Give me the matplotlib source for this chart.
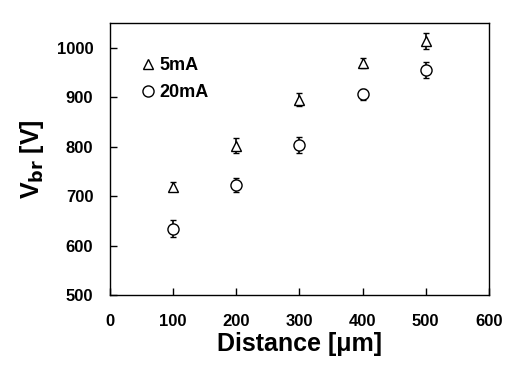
"""
Breakdown voltage against electrode distance for two test currents.
"""

import matplotlib
matplotlib.use("Agg")
import matplotlib.pyplot as plt

plt.rcParams["font.family"] = ["Liberation Sans", "DejaVu Sans"]
plt.rcParams["font.weight"] = "bold"

distance_um = [100, 200, 300, 400, 500]

vbr_5ma = [719, 802, 895, 969, 1014]
err_5ma = [9, 15, 13, 10, 16]

vbr_20ma = [634, 722, 803, 906, 955]
err_20ma = [17, 14, 16, 11, 16]

x_ticks = [0, 100, 200, 300, 400, 500, 600]
y_ticks = [500, 600, 700, 800, 900, 1000]


def main() -> None:
    fig = plt.figure(figsize=(5.19, 3.72), dpi=100)
    ax = fig.add_axes((0.212, 0.207, 0.730, 0.731))

    ax.errorbar(distance_um, vbr_5ma, yerr=err_5ma, fmt="^", markersize=7,
                markerfacecolor="white", markeredgecolor="black", markeredgewidth=1.0,
                ecolor="black", elinewidth=1.2, capsize=2.5, capthick=1.2,
                label="5mA", zorder=3)
    ax.errorbar(distance_um, vbr_20ma, yerr=err_20ma, fmt="o", markersize=8,
                markerfacecolor="white", markeredgecolor="black", markeredgewidth=1.0,
                ecolor="black", elinewidth=1.2, capsize=2.5, capthick=1.2,
                label="20mA", zorder=3)

    ax.set_xlim(0, 600)
    ax.set_ylim(500, 1050)
    ax.set_xticks(x_ticks)
    ax.set_yticks(y_ticks)
    ax.tick_params(axis="x", direction="in", length=5, width=1, pad=14, labelsize=12)
    ax.tick_params(axis="y", direction="in", length=5, width=1, pad=12, labelsize=12)
    for label in ax.get_xticklabels() + ax.get_yticklabels():
        label.set_fontweight("bold")
    for spine in ax.spines.values():
        spine.set_linewidth(1.0)

    ax.set_xlabel("Distance [μm]", fontsize=18, fontweight="bold", labelpad=2)
    ax.set_ylabel(r"V$_{\mathbf{br}}$ [V]", fontsize=18, fontweight="bold", labelpad=8)

    handles, labels = ax.get_legend_handles_labels()
    handles = [h[0] for h in handles]
    ax.legend(handles, labels, loc="upper left", frameon=False,
              prop={"weight": "bold", "size": 13}, handletextpad=0.0,
              handlelength=1.2, borderaxespad=0.6, labelspacing=0.55,
              bbox_to_anchor=(0.025, 0.94))

    fig.savefig("out.png", dpi=100)
    plt.close(fig)


if __name__ == "__main__":
    main()
